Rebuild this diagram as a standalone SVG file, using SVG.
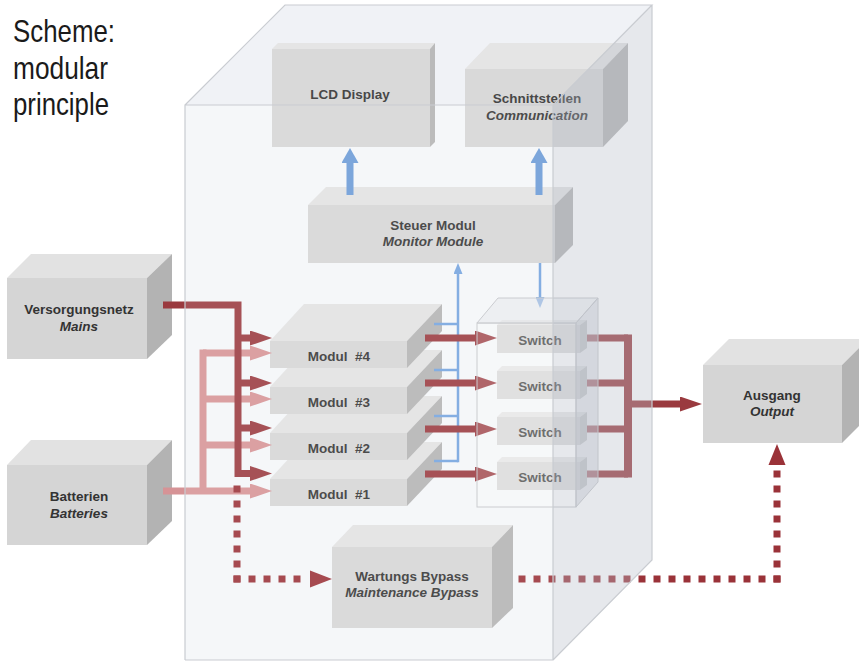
<svg xmlns="http://www.w3.org/2000/svg" width="859" height="663" viewBox="0 0 859 663">
<defs>
<style>
.title{font-family:"Liberation Sans Narrow","Liberation Sans",Arial,sans-serif;font-size:32px;fill:#1a1a1a}
.lbl{font-family:"Liberation Sans",Arial,sans-serif;font-weight:bold;font-size:13.5px;fill:#333;text-anchor:middle;white-space:pre}
.it{font-style:italic}
.f{fill:#d5d5d5}
.t{fill:#e2e2e2}
.s{fill:#b3b3b3}
.sf{fill:#d8d8d8}
.st{fill:#e5e5e5}
.ss{fill:#c3c3c3}
.swl{fill:#444}
.red{fill:none;stroke:#9a3a3f;stroke-width:7}
.pink{fill:none;stroke:#d69396;stroke-width:7}
.dot{fill:none;stroke:#9a3238;stroke-width:7;stroke-dasharray:7 8}
.dothead{fill:#9a3238}
.blue{fill:none;stroke:#6a9ad6;stroke-width:7}
.bthin{fill:none;stroke:#74a3de;stroke-width:2.5}
.edge{fill:none;stroke:#c9ccd1;stroke-width:1.2}
</style>
<marker id="ahRed" markerUnits="userSpaceOnUse" markerWidth="22" markerHeight="15" refX="2" refY="7.5" orient="auto"><path d="M0,0 L22,7.5 L0,15 Z" fill="#9a3a3f"/></marker>
<marker id="ahPink" markerUnits="userSpaceOnUse" markerWidth="22" markerHeight="15" refX="2" refY="7.5" orient="auto"><path d="M0,0 L22,7.5 L0,15 Z" fill="#d69396"/></marker>
<marker id="ahBlue" markerUnits="userSpaceOnUse" markerWidth="15" markerHeight="17" refX="2" refY="8.5" orient="auto"><path d="M0,0 L15,8.5 L0,17 Z" fill="#6a9ad6"/></marker>
<marker id="ahThin" markerUnits="userSpaceOnUse" markerWidth="11" markerHeight="9" refX="1" refY="4.5" orient="auto"><path d="M0,0 L11,4.5 L0,9 Z" fill="#74a3de"/></marker>
</defs>

<rect x="0" y="0" width="859" height="663" fill="#ffffff"/>

<!-- enclosure background -->
<g id="enclosure-back">
<rect x="185" y="105" width="368" height="555" fill="#f4f6f9"/>
<polygon points="185,105 285,5 652,5 553,105" fill="#eff1f5"/>
</g>

<g id="title">
<text class="title" x="13" y="42" textLength="102" lengthAdjust="spacingAndGlyphs">Scheme:</text>
<text class="title" x="13" y="78.5" textLength="95" lengthAdjust="spacingAndGlyphs">modular</text>
<text class="title" x="13" y="115" textLength="96" lengthAdjust="spacingAndGlyphs">principle</text>
</g>

<g id="node-mains">
<rect class="f" x="7" y="278" width="140" height="81"/>
<polygon class="t" points="7,278 31,254 172,254 147,278"/>
<polygon class="s" points="147,278 172,254 172,335 147,359"/>
<text class="lbl" x="79" y="314">Versorgungsnetz</text>
<text class="lbl it" x="79" y="331">Mains</text>
</g>

<g id="node-batteries">
<rect class="f" x="7" y="465" width="140" height="80"/>
<polygon class="t" points="7,465 31,440 172,440 147,465"/>
<polygon class="s" points="147,465 172,440 172,521 147,545"/>
<text class="lbl" x="79" y="501">Batterien</text>
<text class="lbl it" x="79" y="518">Batteries</text>
</g>

<g id="node-lcd">
<rect class="f" x="272" y="49" width="158" height="98"/>
<polygon class="t" points="272,49 278,43 435,43 430,49"/>
<polygon class="s" points="430,49 435,43 435,142 430,147"/>
<text class="lbl" x="350" y="99">LCD Display</text>
</g>

<g id="node-communication">
<rect class="f" x="465" y="69" width="138" height="78"/>
<polygon class="t" points="465,69 490,43 628,43 603,69"/>
<polygon class="s" points="603,69 628,43 628,121 603,147"/>
<text class="lbl" x="537" y="103">Schnittstellen</text>
<text class="lbl it" x="537" y="120">Communication</text>
</g>

<g id="node-monitor">
<rect class="f" x="308" y="205" width="247" height="58"/>
<polygon class="t" points="308,205 326,187 573,187 555,205"/>
<polygon class="s" points="555,205 573,187 573,245 555,263"/>
<text class="lbl" x="433" y="230">Steuer Modul</text>
<text class="lbl it" x="433" y="246">Monitor Module</text>
</g>

<g id="node-modul1">
<rect class="f" x="270" y="479" width="137" height="27"/>
<polygon class="t" points="270,479 304,442 442,442 407,479"/>
<polygon class="s" points="407,479 442,442 442,469 407,506"/>
<text class="lbl" x="339" y="499">Modul  #1</text>
</g>
<g id="node-modul2">
<rect class="f" x="270" y="433" width="137" height="27"/>
<polygon class="t" points="270,433 304,396 442,396 407,433"/>
<polygon class="s" points="407,433 442,396 442,423 407,460"/>
<text class="lbl" x="339" y="453">Modul  #2</text>
</g>
<g id="node-modul3">
<rect class="f" x="270" y="387" width="137" height="27"/>
<polygon class="t" points="270,387 304,350 442,350 407,387"/>
<polygon class="s" points="407,387 442,350 442,377 407,414"/>
<text class="lbl" x="339" y="407">Modul  #3</text>
</g>
<g id="node-modul4">
<rect class="f" x="270" y="341" width="137" height="27"/>
<polygon class="t" points="270,341 304,304 442,304 407,341"/>
<polygon class="s" points="407,341 442,304 442,331 407,368"/>
<text class="lbl" x="339" y="361">Modul  #4</text>
</g>

<g id="node-switch1">
<rect class="sf" x="497" y="325" width="83" height="28"/>
<polygon class="st" points="497,325 502,320 587,320 580,325"/>
<polygon class="ss" points="580,325 587,320 587,348 580,353"/>
<text class="lbl swl" x="540" y="345">Switch</text>
</g>
<g id="node-switch2">
<rect class="sf" x="497" y="371" width="83" height="28"/>
<polygon class="st" points="497,371 502,366 587,366 580,371"/>
<polygon class="ss" points="580,371 587,366 587,394 580,399"/>
<text class="lbl swl" x="540" y="391">Switch</text>
</g>
<g id="node-switch3">
<rect class="sf" x="497" y="417" width="83" height="28"/>
<polygon class="st" points="497,417 502,412 587,412 580,417"/>
<polygon class="ss" points="580,417 587,412 587,440 580,445"/>
<text class="lbl swl" x="540" y="437">Switch</text>
</g>
<g id="node-switch4">
<rect class="sf" x="497" y="462" width="83" height="28"/>
<polygon class="st" points="497,462 502,457 587,457 580,462"/>
<polygon class="ss" points="580,462 587,457 587,485 580,490"/>
<text class="lbl swl" x="540" y="482">Switch</text>
</g>

<g id="node-output">
<rect class="f" x="703" y="365" width="139" height="78"/>
<polygon class="t" points="703,365 729,339 868,339 842,365"/>
<polygon class="s" points="842,365 868,339 868,417 842,443"/>
<text class="lbl" x="772" y="400">Ausgang</text>
<text class="lbl it" x="772" y="416">Output</text>
</g>

<g id="node-bypass">
<rect class="f" x="332" y="547" width="160" height="81"/>
<polygon class="t" points="332,547 353,525 513,525 492,547"/>
<polygon class="s" points="492,547 513,525 513,608 492,628"/>
<text class="lbl" x="412" y="581">Wartungs Bypass</text>
<text class="lbl it" x="412" y="597">Maintenance Bypass</text>
</g>

<g id="connectors">
<!-- batteries feed -->
<path class="pink" d="M203,349.5 V491"/>
<path class="pink" d="M163,491 H252" marker-end="url(#ahPink)"/>
<path class="pink" d="M203,353 H252" marker-end="url(#ahPink)"/>
<path class="pink" d="M203,399 H252" marker-end="url(#ahPink)"/>
<path class="pink" d="M203,445 H252" marker-end="url(#ahPink)"/>
<!-- mains feed -->
<path class="red" d="M163,305 H238 V477"/>
<path class="red" d="M238,338 H252" marker-end="url(#ahRed)"/>
<path class="red" d="M238,383 H252" marker-end="url(#ahRed)"/>
<path class="red" d="M238,428 H252" marker-end="url(#ahRed)"/>
<path class="red" d="M238,473.5 H252" marker-end="url(#ahRed)"/>
<!-- monitor to display / communication -->
<path class="blue" d="M350,195 V161" marker-end="url(#ahBlue)"/>
<path class="blue" d="M539,195 V161" marker-end="url(#ahBlue)"/>
<!-- module control bus -->
<path class="bthin" d="M434,324 H458 M434,370 H458 M434,416 H458 M434,461 H458"/>
<path class="bthin" d="M458,462.25 V273" marker-end="url(#ahThin)"/>
<path class="bthin" d="M540,263 V298" marker-end="url(#ahThin)"/>
<!-- modules to switches -->
<path class="red" d="M425,338 H477" marker-end="url(#ahRed)"/>
<path class="red" d="M425,383 H477" marker-end="url(#ahRed)"/>
<path class="red" d="M425,429 H477" marker-end="url(#ahRed)"/>
<path class="red" d="M425,474 H477" marker-end="url(#ahRed)"/>
<!-- switches to output -->
<path class="red" d="M587,338 H628 M587,383 H628 M587,429 H628 M587,474 H628"/>
<path class="red" d="M628,334.5 V477.5" style="stroke-width:8"/>
<path class="red" d="M628,404 H682" marker-end="url(#ahRed)"/>
<!-- maintenance bypass (dotted) -->
<path class="dot" d="M237,485.5 V582.5"/>
<path class="dot" d="M233.5,579 H305"/>
<polygon class="dothead" points="310,570.5 332,579 310,587.5"/>
<path class="dot" d="M780.5,579 H512"/>
<path class="dot" d="M777,582.5 V466"/>
<polygon class="dothead" points="768.5,465 785.5,465 777,444"/>
</g>

<g id="node-switchbank">
<rect x="477" y="323" width="99" height="184" fill="#ffffff" fill-opacity="0.12" stroke="#c4c6ca" stroke-width="1"/>
<polygon points="477,323 498,298 598,298 576,323" fill="#dfe2e7" fill-opacity="0.45" stroke="#c4c6ca" stroke-width="1"/>
<polygon points="576,323 598,298 598,482 576,507" fill="#c2c6ce" fill-opacity="0.45" stroke="#c4c6ca" stroke-width="1"/>
</g>

<g id="enclosure">
<rect x="185" y="105" width="368" height="555" fill="#ffffff" fill-opacity="0.12"/>
<polygon points="185,105 285,5 652,5 553,105" fill="#ffffff" fill-opacity="0.1"/>
<polygon points="553,105 652,5 652,560 553,660" fill="#bbc1cc" fill-opacity="0.37"/>
<path class="edge" d="M185,660 V105 H553 V660 H185 M185,105 L285,5 H652 L553,105 M652,5 V560 L553,660"/>
</g>
</svg>
